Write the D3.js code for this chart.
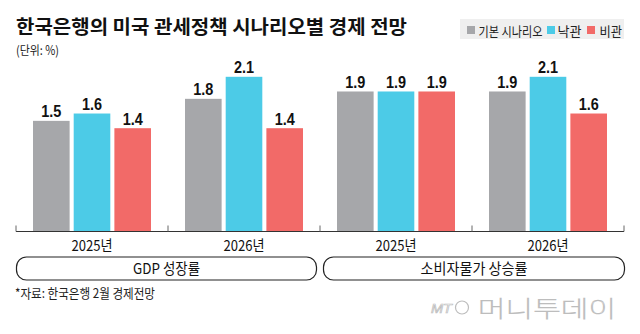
<!DOCTYPE html>
<html><head><meta charset="utf-8">
<script src="https://cdn.jsdelivr.net/npm/d3@7"></script>
<style>
html,body{margin:0;padding:0;background:#fff;}
svg{display:block;}
</style></head>
<body>
<svg id="c" width="640" height="334"></svg>
<script>
const title = "한국은행의 미국 관세정책 시나리오별 경제 전망";
const unitLabel = "(단위: %)";
const source = "*자료: 한국은행 2월 경제전망";
const seriesNames = ["기본 시나리오", "낙관", "비관"];
const seriesColors = ["#a6a7aa", "#4ccbe7", "#f26a68"];
const groups = ["GDP 성장률", "소비자물가 상승률"];
const years = ["2025년", "2026년", "2025년", "2026년"];
const baseValues = [1.5, 1.8, 1.9, 1.9];
const optimisticValues = [1.6, 2.1, 1.9, 2.1];
const pessimisticValues = [1.4, 1.4, 1.9, 1.6];

const series = [baseValues, optimisticValues, pessimisticValues];
const svg = d3.select("#c");
const KR = "'Noto Sans CJK KR','Noto Sans',sans-serif";
const NUM = "'Liberation Sans',Arial,sans-serif";

function fitWidth(sel, w) {
  sel.each(function(){ this.setAttribute("textLength", w); this.setAttribute("lengthAdjust","spacingAndGlyphs"); });
}
function condense(sel, f) {
  sel.each(function(){ const l = this.getComputedTextLength(); this.setAttribute("textLength", l*f); this.setAttribute("lengthAdjust","spacingAndGlyphs"); });
}

// title
svg.append("text").attr("x",16).attr("y",34).attr("font-family",KR).attr("font-weight",700)
  .attr("font-size",19).attr("fill","#111").text(title).call(fitWidth,391);
svg.append("text").attr("x",16).attr("y",55).attr("font-family",KR).attr("font-size",12.5)
  .attr("fill","#222").text(unitLabel).call(fitWidth,43);

// legend
const lg = svg.append("g");
lg.append("rect").attr("x",460).attr("y",19).attr("width",164).attr("height",20).attr("fill","#efefef");
const legX = [[467,478.5,64],[547,557.5,24],[587,599.5,22.5]];
seriesNames.forEach((n,i)=>{
  lg.append("rect").attr("x",legX[i][0]).attr("y",26).attr("width",8).attr("height",8).attr("fill",seriesColors[i]);
  lg.append("text").attr("x",legX[i][1]).attr("y",35.5).attr("font-family",KR).attr("font-size",13)
    .attr("fill","#222").text(n).call(fitWidth,legX[i][2]);
});

// scales
const x0 = d3.scaleBand().domain(d3.range(years.length)).range([16,624]).paddingInner(0).paddingOuter(0);
const x1 = d3.scaleBand().domain(d3.range(3)).range([17,135]).paddingInner(0.1).paddingOuter(0);
const y = d3.scaleLinear().domain([0,2.1]).range([231,76.8]);

// bars
const gg = svg.append("g").selectAll("g").data(years.map((yr,i)=>i)).join("g")
  .attr("transform",i=>`translate(${x0(i)},0)`);
gg.selectAll("rect").data(i=>series.map((s,k)=>({k,v:s[i]}))).join("rect")
  .attr("x",d=>x1(d.k)).attr("width",x1.bandwidth())
  .attr("y",d=>y(d.v)).attr("height",d=>y(0)-y(d.v))
  .attr("fill",d=>seriesColors[d.k]);
gg.selectAll("text").data(i=>series.map((s,k)=>({k,v:s[i]}))).join("text")
  .attr("x",d=>x1(d.k)+x1.bandwidth()/2).attr("y",d=>y(d.v)-3.5)
  .attr("text-anchor","middle").attr("font-family",NUM).attr("font-weight",700)
  .attr("font-size",17).attr("fill","#111").text(d=>d.v.toFixed(1)).call(condense,0.85);

// axis
const ax = svg.append("g").attr("transform","translate(0,231.5)");
ax.append("line").attr("x1",16).attr("x2",624).attr("stroke","#333").attr("stroke-width",1);
const tickPos = d3.range(years.length).map(i=>x0(i)).concat([x0(years.length-1)+x0.bandwidth()]);
ax.selectAll("line.t").data(tickPos).join("line").attr("class","t")
  .attr("x1",d=>d).attr("x2",d=>d).attr("y1",-6).attr("y2",0).attr("stroke","#666").attr("stroke-width",1);

svg.append("g").selectAll("text").data(years).join("text")
  .attr("x",(d,i)=>x0(i)+x0.bandwidth()/2).attr("y",251)
  .attr("text-anchor","middle").attr("font-family",KR).attr("font-size",15).attr("fill","#111")
  .text(d=>d).call(fitWidth,41);

// group boxes
const boxX = [[16,317],[323,625]];
const groupW = [67,107];
groups.forEach((g,i)=>{
  svg.append("rect").attr("x",boxX[i][0]+0.5).attr("y",257).attr("width",boxX[i][1]-boxX[i][0]-1)
    .attr("height",23).attr("rx",10).attr("ry",10).attr("fill","none").attr("stroke","#222").attr("stroke-width",1.2);
  svg.append("text").attr("x",(boxX[i][0]+boxX[i][1])/2).attr("y",274).attr("text-anchor","middle")
    .attr("font-family",KR).attr("font-size",15).attr("fill","#111").text(g).call(fitWidth,groupW[i]);
});

// source
svg.append("text").attr("x",15).attr("y",298).attr("font-family",KR).attr("font-size",13)
  .attr("fill","#222").text(source).call(fitWidth,140);

// watermark
const wm = svg.append("g").attr("fill","#fff").attr("stroke","#bdbdbd").attr("stroke-width",0.7);
wm.append("text").attr("x",431).attr("y",313).attr("font-family",NUM).attr("font-style","italic")
  .attr("font-size",13).text("MT").call(fitWidth,21);
wm.append("ellipse").attr("cx",462).attr("cy",307.5).attr("rx",6.5).attr("ry",6.5).attr("fill","none").attr("stroke-width",1.2);
wm.append("text").attr("x",478).attr("y",317).attr("font-family",KR).attr("font-weight",100)
  .attr("font-size",23).text("머니투데이").call(fitWidth,138);
</script>
</body></html>
